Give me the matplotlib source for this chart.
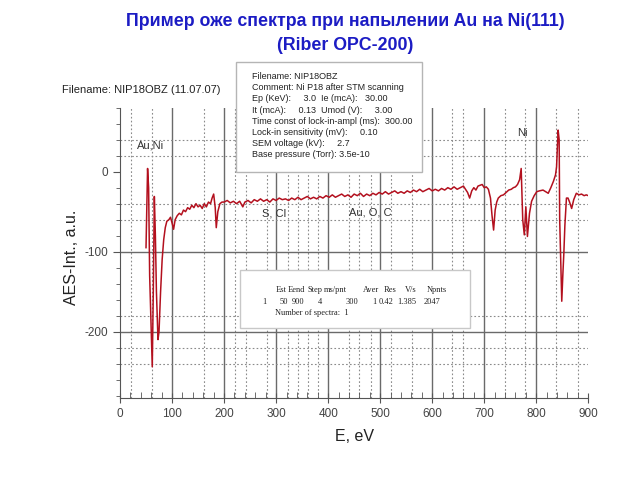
import matplotlib
matplotlib.use("Agg")
import matplotlib.pyplot as plt
from matplotlib.patches import Rectangle
from matplotlib.ticker import MultipleLocator

plt.rcParams["axes.unicode_minus"] = False

# -----------------------------
# Data
# -----------------------------
energy = [50, 53, 55, 57, 60, 62, 64, 66, 68, 70, 73, 75, 78, 81, 84, 87, 90, 94, 97,
          100, 103, 106, 110, 114, 118, 122, 126, 130, 134, 138, 142, 146, 150, 154,
          158, 162, 166, 170, 174, 177, 180, 183, 185, 188, 192, 196,
          200, 206, 212, 218, 224, 230, 236, 240, 246, 252, 258, 264, 270, 276, 282,
          288, 294, 300, 306, 312, 318, 324, 330, 336, 342, 348, 354, 360, 366, 372,
          378, 384, 390, 396, 402, 408, 414, 420, 426, 432, 438, 444, 450, 456, 462,
          468, 474, 480, 486, 492, 498, 504, 510, 516, 522, 528, 534, 540, 546, 552,
          558, 564, 570, 576, 582, 588, 594, 600, 606, 612, 618, 624, 630, 636, 642,
          648, 654, 660, 664, 668, 672, 676, 680, 684, 688, 692, 696, 700, 704, 708,
          712, 715, 718, 721, 724, 727, 732, 737, 742, 747, 752, 756, 760, 764, 768,
          771, 774, 777, 780, 783, 787, 791, 796, 801, 806, 813, 818, 823, 828, 833,
          837, 839, 842, 844, 845, 847, 849, 851, 853, 855, 858, 861, 864, 868, 872,
          877, 882, 887, 892, 896, 900]
intensity = [-95, 4, -20, -130, -200, -244, -150, -31, -80, -150, -210, -200, -150, -110,
             -85, -70, -62, -60, -57, -64, -72, -60, -55, -52, -54, -48, -50, -45, -47,
             -42, -45, -40, -44, -42, -46, -40, -44, -38, -40, -33, -28, -45, -70, -50,
             -40, -38,
             -38, -36, -39, -37, -40, -37, -44, -38, -36, -39, -35, -37, -34, -37, -35,
             -38, -34, -36, -33, -35, -34, -36, -33, -35, -32, -35, -33, -31, -34, -32,
             -34, -31, -33, -30, -32, -29, -32, -30, -28, -31, -29, -32, -28, -30, -27,
             -31, -28, -30, -27, -29, -26, -28, -25, -28, -26, -24, -27, -25, -27, -24,
             -26, -23, -25, -22, -25, -23, -21, -24, -22, -24, -21, -23, -20, -22, -19,
             -22, -20, -18, -22, -26, -33, -24, -20, -23, -18, -17, -16, -20, -19, -22,
             -33, -55, -73, -48, -38, -33, -30, -29, -26, -23, -22, -20, -19, -16, -10,
             4, -60, -79, -44, -81, -52, -37, -30, -25, -24, -23, -25, -27, -20, -12,
             -4, 6, 52, 40, -60, -110, -162, -130, -102, -67, -33, -33, -38, -46, -35,
             -27, -29, -28, -30, -29, -30]

# grid lines of the original software (solid = every 100 eV, dotted = peak markers)
solid_x = [100, 200, 300, 400, 500, 600, 700, 800]
dotted_x = [22, 62, 162, 221, 242, 282, 323, 342, 361, 380, 441, 460, 482, 520,
            562, 638, 659, 740, 779, 838, 880]
solid_y = [-100, -200]
dotted_y = [40, 20, -40, -60, -180, -220, -240]

peak_labels = ["Au,Ni", "S, Cl", "Au, O, C", "Ni"]
peak_label_x = [32, 272, 440, 764]
peak_label_y = [33, -52, -51, 48]

info_lines = [
    "Filename: NIP18OBZ",
    "Comment: Ni P18 after STM scanning",
    "Ep (KeV):     3.0  Ie (mcA):   30.00",
    "It (mcA):     0.13  Umod (V):     3.00",
    "Time const of lock-in-ampl (ms):  300.00",
    "Lock-in sensitivity (mV):     0.10",
    "SEM voltage (kV):     2.7",
    "Base pressure (Torr): 3.5e-10",
]

head_tokens = ["Est", "Eend", "Step", "ms/pnt", "Aver", "Res", "V/s", "Npnts"]
head_x = [276, 288, 307, 324, 363, 384, 405, 427]
row_tokens = ["1", "50", "900", "4", "300", "1", "0.42", "1.385", "2047"]
row_x = [262, 280, 292, 318, 346, 372, 379, 397, 424]

# -----------------------------
# Plot
# -----------------------------
sans = ["Liberation Sans", "DejaVu Sans"]
serif = ["Liberation Serif", "DejaVu Serif"]

W, H = 640, 480
fig = plt.figure(figsize=(6.4, 4.8), dpi=100)
ax = fig.add_axes([120 / W, 1 - 398 / H, 468.3 / W, 290.3 / H])

for x in solid_x:
    ax.axvline(x, color="#6a6a6a", lw=1.0, zorder=1)
for x in dotted_x:
    ax.axvline(x, color="#8a8a8a", lw=0.8, ls=(0, (1.5, 2)), zorder=1)
for y in solid_y:
    ax.axhline(y, color="#6a6a6a", lw=1.0, zorder=1)
for y in dotted_y:
    ax.axhline(y, color="#8a8a8a", lw=0.8, ls=(0, (1.5, 2)), zorder=1)

ax.plot(energy, intensity, color="#b3101e", lw=1.1, zorder=5)

for lab, x, y in zip(peak_labels, peak_label_x, peak_label_y):
    ax.text(x, y, lab, fontsize=8, family=sans, color="#333333", va="center", zorder=6)

ax.set_xlim(0, 900)
ax.set_ylim(-283, 80)
ax.xaxis.set_major_locator(MultipleLocator(100))
ax.xaxis.set_minor_locator(MultipleLocator(20))
ax.yaxis.set_major_locator(MultipleLocator(100))
ax.yaxis.set_minor_locator(MultipleLocator(20))
for s in ["top", "right"]:
    ax.spines[s].set_visible(False)
for s in ["left", "bottom"]:
    ax.spines[s].set_color("#555555")
ax.tick_params(axis="y", which="major", direction="out", length=5, color="#555555",
               labelsize=8.5, labelcolor="#444444")
ax.tick_params(axis="y", which="minor", direction="out", length=3, color="#555555")
ax.tick_params(axis="x", which="major", direction="inout", length=7, color="#555555",
               labelsize=8.5, labelcolor="#444444", pad=4)
ax.tick_params(axis="x", which="minor", direction="in", length=4, color="#555555")
for t in ax.get_xticklabels() + ax.get_yticklabels():
    t.set_family(sans)
ax.set_facecolor("none")

ax.set_xlabel("E, eV", fontsize=11.5, family=sans, color="#222222", labelpad=6)
ax.set_ylabel("AES-Int., a.u.", fontsize=11.5, family=sans, color="#222222")
ax.yaxis.set_label_coords(-0.0875, 0.485)

# title
fig.text(345 / W, 1 - 22 / H, "Пример оже спектра при напылении Au на Ni(111)",
         ha="center", va="center", fontsize=12.8, fontweight="bold", family=sans,
         color="#1c1cc4")
fig.text(345 / W, 1 - 45 / H, "(Riber OPC-200)", ha="center", va="center",
         fontsize=12.8, fontweight="bold", family=sans, color="#1c1cc4")

fig.text(62 / W, 1 - 90 / H, "Filename: NIP18OBZ (11.07.07)", ha="left", va="center",
         fontsize=8, family=sans, color="#222222")

# info box
fig.add_artist(Rectangle((236 / W, 1 - 172 / H), 186 / W, 110 / H,
                         transform=fig.transFigure, facecolor="white",
                         edgecolor="#b5b5b5", lw=1.0, zorder=10))
for i, line in enumerate(info_lines):
    fig.text(252 / W, 1 - (76.5 + i * 11.2) / H, line, ha="left", va="center",
             fontsize=6.5, family=sans, color="#222222", zorder=11)

# acquisition parameter box
fig.add_artist(Rectangle((240 / W, 1 - 328 / H), 230 / W, 58 / H,
                         transform=fig.transFigure, facecolor="white",
                         edgecolor="#c8c8c8", lw=1.0, zorder=10))
for tok, x in zip(head_tokens, head_x):
    fig.text(x / W, 1 - 290 / H, tok, ha="left", va="center", fontsize=6,
             family=serif, color="#222222", zorder=11)
for tok, x in zip(row_tokens, row_x):
    fig.text(x / W, 1 - 302 / H, tok, ha="left", va="center", fontsize=6,
             family=serif, color="#222222", zorder=11)
fig.text(275 / W, 1 - 313 / H, "Number of spectra:  1", ha="left", va="center",
         fontsize=6, family=serif, color="#222222", zorder=11)

fig.savefig("out.png", dpi=100)
